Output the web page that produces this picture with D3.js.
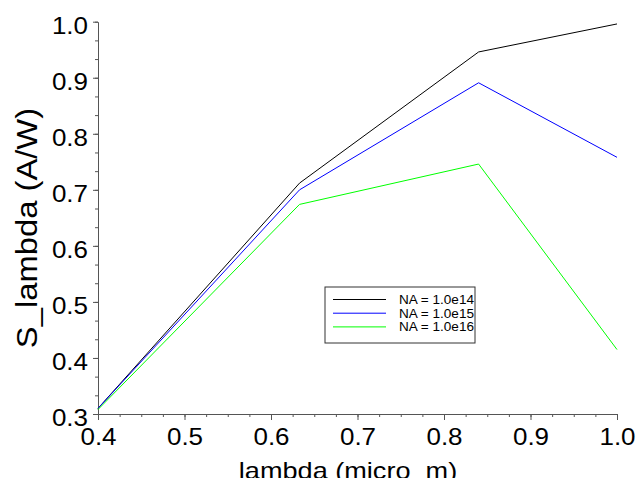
<!DOCTYPE html>
<html>
<head>
<meta charset="utf-8">
<script src="https://cdn.jsdelivr.net/npm/d3@7.9.0/dist/d3.min.js"></script>
<style>
  body { margin: 0; background: #fff; }
  text { font-family: "Liberation Sans", Arial, sans-serif; fill: #000; }
</style>
</head>
<body>
<div id="chart"></div>
<script>
// wavelengths (micro m)
const lambda = [0.4, 0.633, 0.84, 1.0];
// responsivity per doping level
const na14 = [0.310, 0.712, 0.946, 0.996];
const na15 = [0.310, 0.700, 0.891, 0.758];
const na16 = [0.308, 0.674, 0.746, 0.415];
const seriesNames = ["NA = 1.0e14", "NA = 1.0e15", "NA = 1.0e16"];
const seriesColors = ["#000000", "#0000ff", "#00ff00"];
const xTicks = [0.4, 0.5, 0.6, 0.7, 0.8, 0.9, 1.0];
const yTicks = [0.3, 0.4, 0.5, 0.6, 0.7, 0.8, 0.9, 1.0];

const width = 638, height = 483;
const area = { left: 98, right: 617, top: 21.7, bottom: 414 };
const stretch = 1.13; // text in the original is drawn a bit wide

const svg = d3.select('#chart')
    .append('svg')
    .attr('width', width)
    .attr('height', height);

const xScale = d3.scaleLinear().domain([0.4, 1.0]).range([area.left, area.right]);
const yScale = d3.scaleLinear().domain([0.3, 1.0]).range([area.bottom, area.top]);

// minor ticks
const xMinor = d3.range(0, 25).map(i => 0.4 + i * 0.025);
const yMinor = d3.range(0, 22).map(i => 0.3 + i / 30);

svg.append('g')
    .attr('transform', `translate(0,${area.bottom})`)
    .call(d3.axisBottom(xScale).tickValues(xMinor).tickSize(3).tickFormat(''))
    .call(g => g.select('.domain').remove())
    .call(g => g.selectAll('line').attr('stroke', '#555'));

svg.append('g')
    .attr('transform', `translate(${area.left},0)`)
    .call(d3.axisLeft(yScale).tickValues(yMinor).tickSize(3).tickFormat(''))
    .call(g => g.select('.domain').remove())
    .call(g => g.selectAll('line').attr('stroke', '#555'));

// major ticks + labels
const xAxis = svg.append('g')
    .attr('transform', `translate(0,${area.bottom})`)
    .call(d3.axisBottom(xScale).tickValues(xTicks).tickSize(6).tickSizeOuter(0)
        .tickFormat(d3.format('.1f')));
xAxis.select('.domain').attr('stroke', '#555');
xAxis.selectAll('line').attr('stroke', '#555');
xAxis.selectAll('text')
    .attr('y', 15)
    .attr('font-size', 23)
    .attr('transform', `scale(${stretch},1)`);

const yAxis = svg.append('g')
    .attr('transform', `translate(${area.left},0)`)
    .call(d3.axisLeft(yScale).tickValues(yTicks).tickSize(5).tickSizeOuter(0)
        .tickFormat(d3.format('.1f')));
yAxis.select('.domain').attr('stroke', '#555');
yAxis.selectAll('line').attr('stroke', '#555');
yAxis.selectAll('text')
    .attr('x', -10 / stretch)
    .attr('dy', '0.5em')
    .attr('font-size', 23)
    .attr('transform', `scale(${stretch},1)`);

// lines
const rows = [na14, na15, na16];
const line = d3.line()
    .x((d, i) => xScale(lambda[i]))
    .y(d => yScale(d));

svg.append('g')
    .selectAll('path')
    .data(rows)
    .join('path')
    .attr('d', d => line(d))
    .attr('fill', 'none')
    .attr('stroke', (d, i) => seriesColors[i])
    .attr('stroke-width', 1);

// axis titles (bottom one is clipped like in the original)
svg.append('clipPath').attr('id', 'clip')
    .append('rect').attr('x', 0).attr('y', 0).attr('width', width).attr('height', 478);

svg.append('g')
    .attr('clip-path', 'url(#clip)')
    .append('text')
    .attr('transform', `translate(348,479) scale(${stretch},1)`)
    .attr('text-anchor', 'middle')
    .attr('font-size', 24)
    .text('lambda (micro_m)');

svg.append('text')
    .attr('transform', `translate(37,228) rotate(-90) scale(${stretch},1)`)
    .attr('text-anchor', 'middle')
    .attr('font-size', 29)
    .text('S_lambda (A/W)');

// legend
const legend = svg.append('g').attr('transform', 'translate(325,287)');
legend.append('rect')
    .attr('width', 150)
    .attr('height', 56)
    .attr('fill', '#fff')
    .attr('stroke', '#333');

const items = legend.selectAll('g.item')
    .data(seriesNames)
    .join('g')
    .attr('class', 'item')
    .attr('transform', (d, i) => `translate(0,${12.5 + i * 13.7})`);
items.append('line')
    .attr('x1', 8).attr('x2', 61)
    .attr('stroke', (d, i) => seriesColors[i]);
items.append('text')
    .attr('transform', `translate(74,0) scale(${stretch},1)`)
    .attr('dy', '0.36em')
    .attr('font-size', 12)
    .text(d => d);
</script>
</body>
</html>
